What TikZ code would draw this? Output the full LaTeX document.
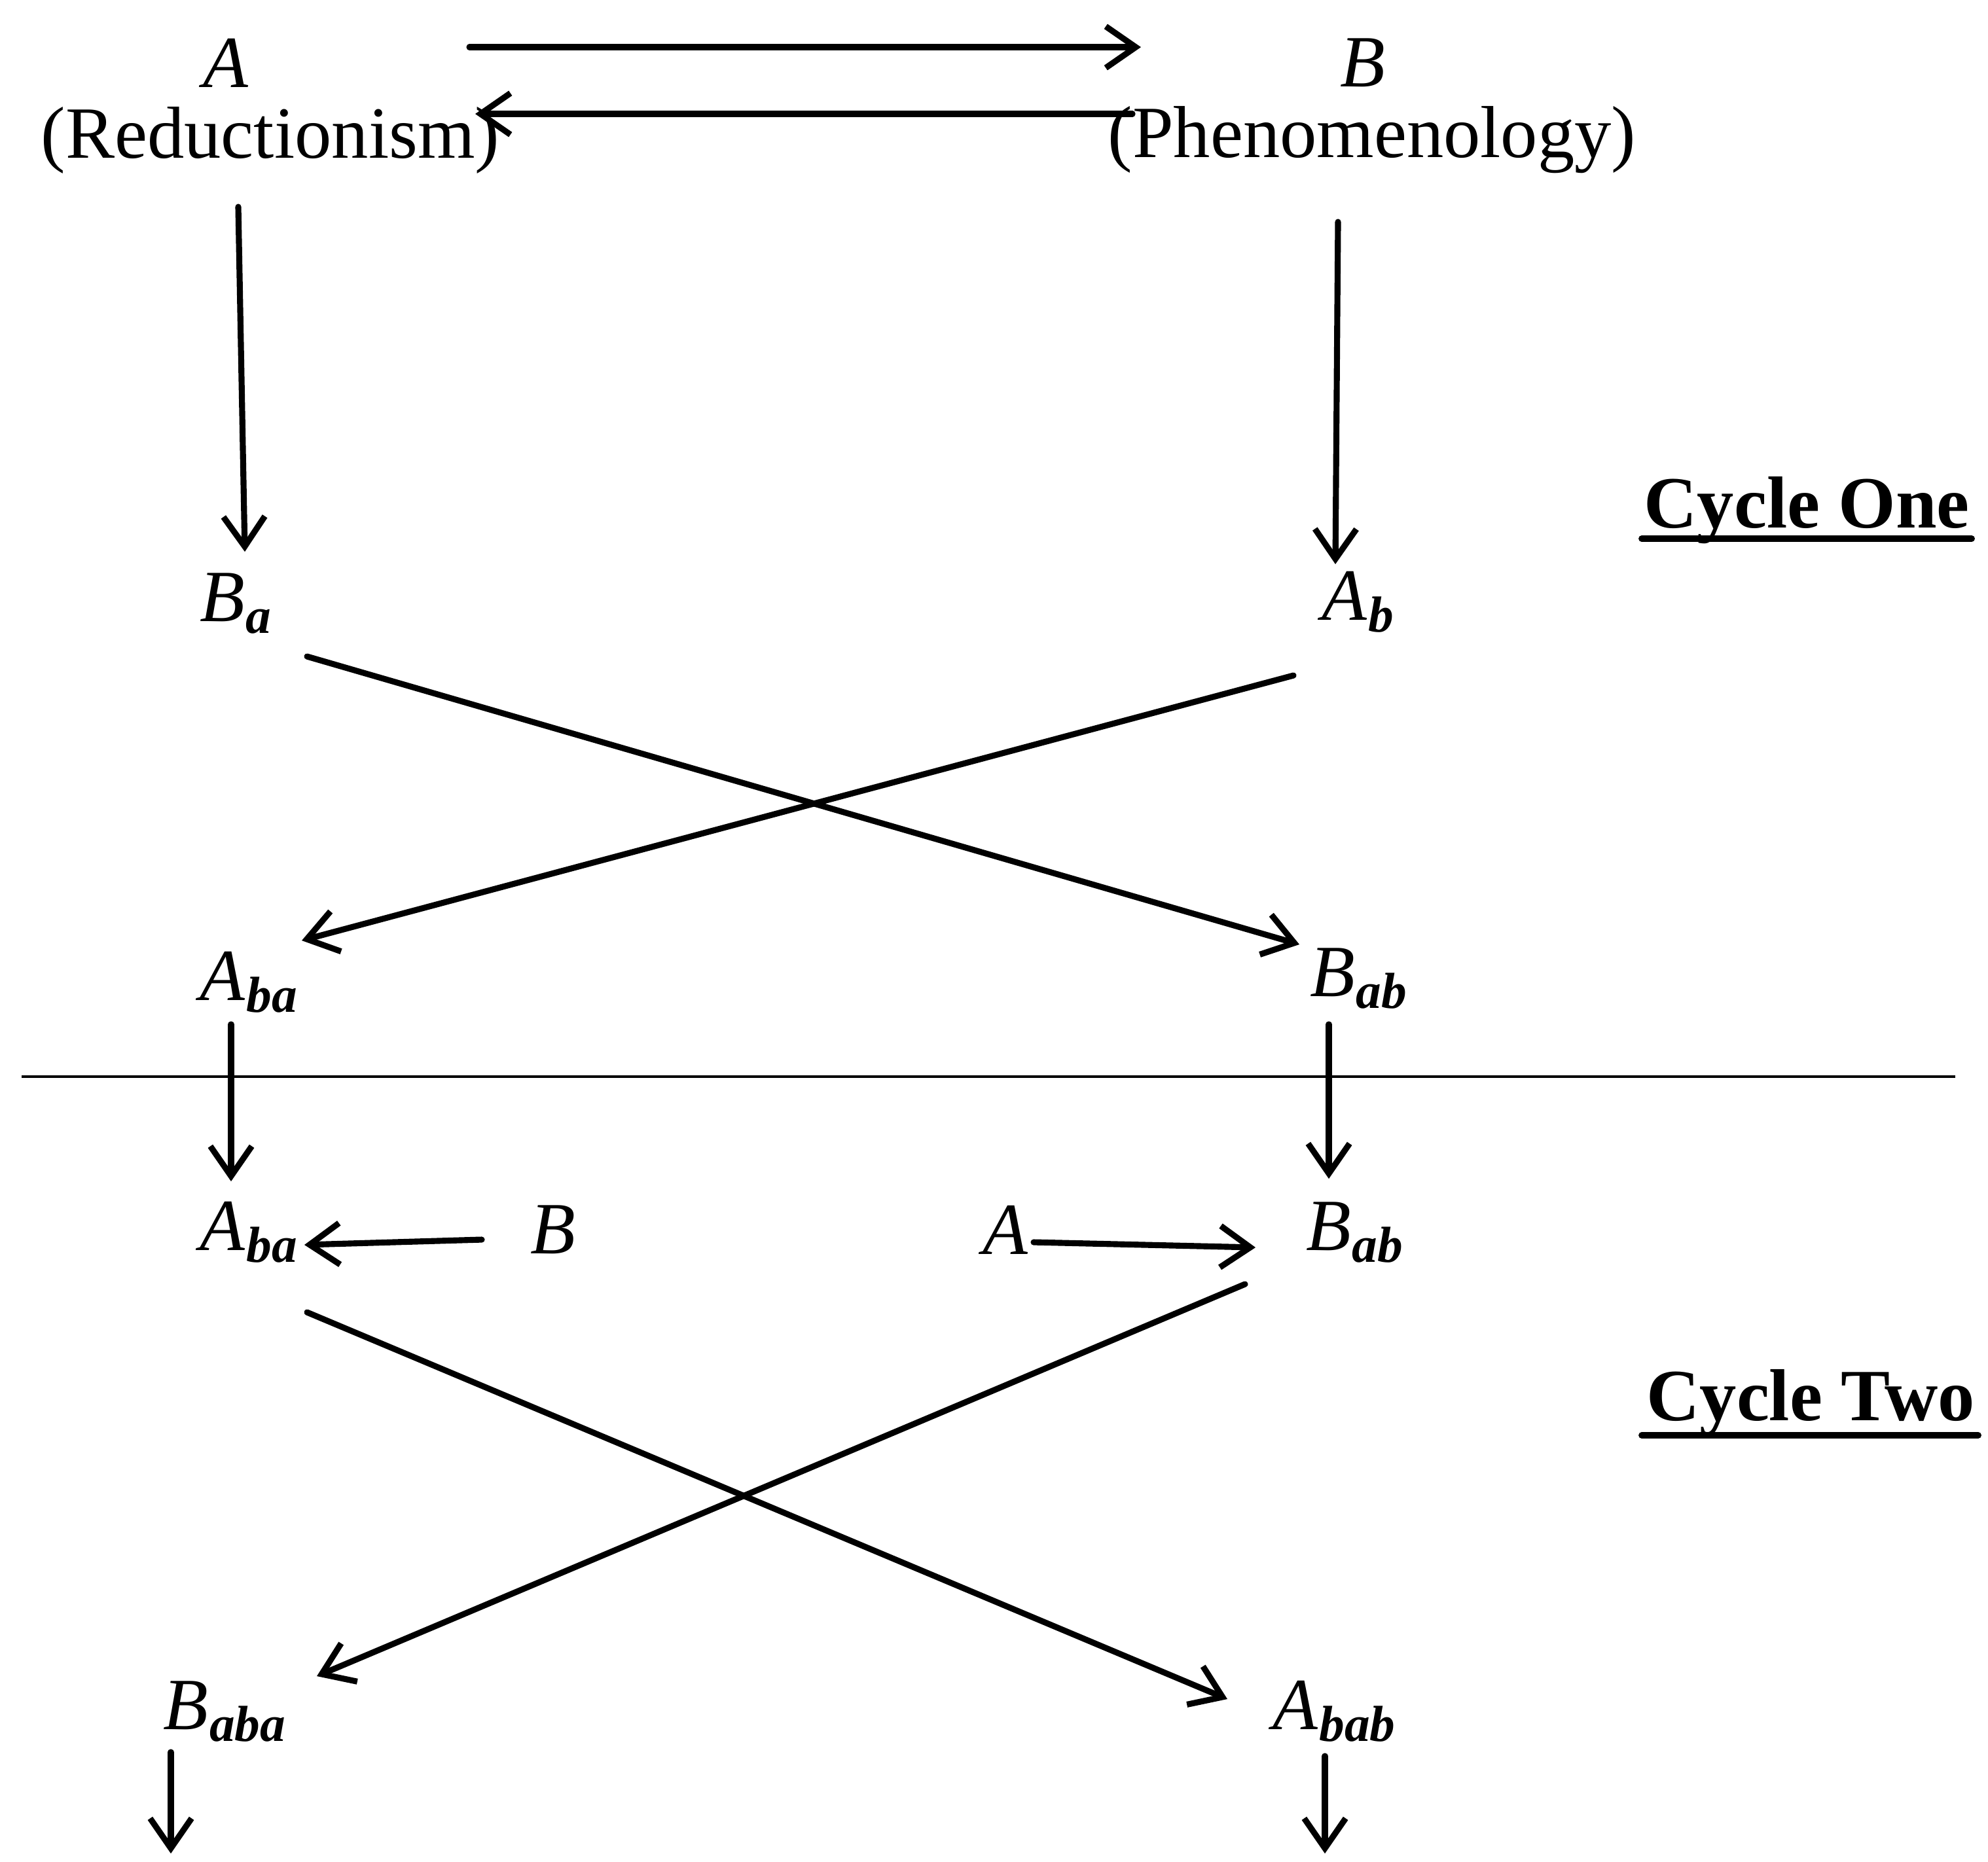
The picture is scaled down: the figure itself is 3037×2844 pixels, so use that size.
\documentclass[tikz,border=0pt]{standalone}
\usepackage{fontspec}
\setmainfont{Liberation Serif}
\usetikzlibrary{arrows.meta}
\newcommand{\labsub}[2]{\textit{#1}\kern0.5pt\raisebox{-5pt}{\fontsize{22}{22}\selectfont\bfseries\itshape #2}}
\tikzset{
  lbl/.style={inner sep=0pt, font=\fontsize{32}{32}\selectfont},
  cyc/.style={inner sep=0pt, font=\fontsize{32}{32}\selectfont\bfseries},
  arr/.style={line width=2.6pt, line cap=round, -{Straight Barb[length=13pt,width=18pt,line width=2.6pt]}},
  sep/.style={line width=1.1pt},
  uline/.style={line width=2.8pt, line cap=round}
}
\begin{document}
\begin{tikzpicture}[x=0.01cm,y=-0.01cm]
\useasboundingbox (0,0) rectangle (3037,2844);
% labels
\node[lbl] (A) at (345,96) {\textit{A}};
\node[lbl] (red) at (413,214) {(Reductionism)};
\node[lbl] (B) at (2082,96) {\textit{B}};
\node[lbl] (phen) at (2096,214) {(Phenomenology)};
\node[lbl] (Ba) at (360,922) {\labsub{B}{a}};
\node[lbl] (Ab) at (2074,920) {\labsub{A}{b}};
\node[lbl] (Aba1) at (380,1501) {\labsub{A}{ba}};
\node[lbl] (Bab1) at (2075,1495) {\labsub{B}{ab}};
\node[lbl] (Aba2) at (380,1883) {\labsub{A}{ba}};
\node[lbl] (Bm) at (845,1879) {\textit{B}};
\node[lbl] (Am) at (1536,1879) {\textit{A}};
\node[lbl] (Bab2) at (2069,1883) {\labsub{B}{ab}};
\node[lbl] (Baba) at (343,2615) {\labsub{B}{aba}};
\node[lbl] (Abab) at (2038,2615) {\labsub{A}{bab}};
\node[cyc] (c1) at (2760,780) {Cycle One};
\node[cyc] (c2) at (2766,2144) {Cycle Two};
\draw[uline] (2508,823) -- (3012,823);
\draw[uline] (2508,2193) -- (3022,2193);
% coordinates
\coordinate (t1s) at (717,72);   \coordinate (t1e) at (1743,72);
\coordinate (t2s) at (1730,174); \coordinate (t2e) at (726,174);
\coordinate (d1s) at (364,316);  \coordinate (d1e) at (374,843);
\coordinate (d2s) at (2044,339); \coordinate (d2e) at (2040,862);
\coordinate (x1s) at (469,1003); \coordinate (x1e) at (1985,1443);
\coordinate (x2s) at (1976,1032);\coordinate (x2e) at (461,1437);
\coordinate (d3s) at (353,1565); \coordinate (d3e) at (353,1805);
\coordinate (d4s) at (2030,1565);\coordinate (d4e) at (2030,1801);
\coordinate (h1) at (33,1645);   \coordinate (h2) at (2987,1645);
\coordinate (m1s) at (736,1894); \coordinate (m1e) at (465,1902);
\coordinate (m2s) at (1579,1898);\coordinate (m2e) at (1918,1906);
\coordinate (x3s) at (469,2005); \coordinate (x3e) at (1875,2596);
\coordinate (x4s) at (1902,1962);\coordinate (x4e) at (484,2561);
\coordinate (d5s) at (261,2677); \coordinate (d5e) at (261,2832);
\coordinate (d6s) at (2024,2683);\coordinate (d6e) at (2024,2832);
% connectors
\draw[arr] (t1s) -- (t1e);
\draw[arr] (t2s) -- (t2e);
\draw[arr] (d1s) -- (d1e);
\draw[arr] (d2s) -- (d2e);
\draw[arr] (x1s) -- (x1e);
\draw[arr] (x2s) -- (x2e);
\draw[arr] (d3s) -- (d3e);
\draw[arr] (d4s) -- (d4e);
\draw[sep] (h1) -- (h2);
\draw[arr] (m1s) -- (m1e);
\draw[arr] (m2s) -- (m2e);
\draw[arr] (x3s) -- (x3e);
\draw[arr] (x4s) -- (x4e);
\draw[arr] (d5s) -- (d5e);
\draw[arr] (d6s) -- (d6e);
\end{tikzpicture}
\end{document}
